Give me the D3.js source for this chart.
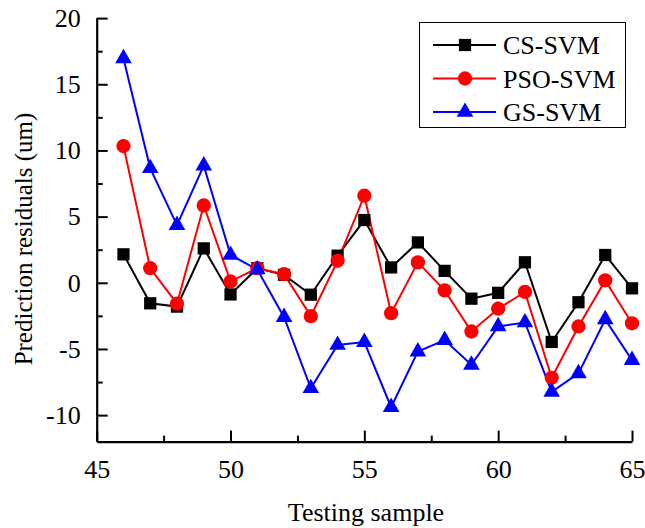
<!DOCTYPE html>
<html>
<head>
<meta charset="utf-8">
<script src="https://cdn.jsdelivr.net/npm/d3@7/dist/d3.min.js"></script>
<style>
  body { margin: 0; background: #fff; }
  svg text { font-family: "Liberation Serif", "Times New Roman", serif !important; fill: #000; }
</style>
</head>
<body>
<div id="chart"></div>
<script>
const samples = [46, 47, 48, 49, 50, 51, 52, 53, 54, 55, 56, 57, 58, 59, 60, 61, 62, 63, 64, 65];
const csSvm = [2.15, -1.55, -1.8, 2.6, -0.88, 1.1, 0.6, -0.9, 2.05, 4.74, 1.16, 3.05, 0.9, -1.2, -0.76, 1.55, -4.47, -1.47, 2.1, -0.42];
const psoSvm = [10.33, 1.1, -1.58, 5.84, 0.1, 1.1, 0.65, -2.52, 1.66, 6.58, -2.3, 1.54, -0.57, -3.68, -1.96, -0.69, -7.18, -3.3, 0.18, -3.06];
const gsSvm = [16.95, 8.65, 4.36, 8.85, 2.1, 1.0, -2.6, -7.97, -4.7, -4.48, -9.4, -5.2, -4.33, -6.2, -3.3, -3.0, -8.24, -6.85, -2.77, -5.84];
const seriesNames = ["CS-SVM", "PSO-SVM", "GS-SVM"];
const xTicks = [45, 50, 55, 60, 65];
const yTicks = [-10, -5, 0, 5, 10, 15, 20];

const W = 645, H = 528;
const serif = "'Liberation Serif', 'Times New Roman', serif";
const svg = d3.select("#chart").append("svg")
  .attr("width", W)
  .attr("height", H);

const x = d3.scaleLinear().domain([45, 65]).range([96.7, 632]);
const y = d3.scaleLinear().domain([-12, 20]).range([441.6, 18.1]);

const series = [
  { name: seriesNames[0], values: csSvm, color: "#000000", symbol: d3.symbolSquare, size: 150 },
  { name: seriesNames[1], values: psoSvm, color: "#ff0000", symbol: d3.symbolCircle, size: 160 },
  { name: seriesNames[2], values: gsSvm, color: "#0000ff", symbol: d3.symbolTriangle, size: 120 }
];

// plain hyphen for negatives, like the original
const fmt = d => String(d);

// minor ticks
const xMinor = d3.range(47.5, 65, 5);
const yMinor = d3.range(-7.5, 20, 5);

svg.append("g")
  .attr("transform", `translate(0,${y(-12)})`)
  .call(d3.axisBottom(x).tickValues(xMinor).tickSize(-6).tickFormat(""))
  .call(g => g.select(".domain").remove())
  .selectAll("line").attr("stroke-width", 2);

svg.append("g")
  .attr("transform", `translate(${x(45)},0)`)
  .call(d3.axisLeft(y).tickValues(yMinor).tickSize(-6).tickFormat(""))
  .call(g => g.select(".domain").remove())
  .selectAll("line").attr("stroke-width", 2);

const xAxis = svg.append("g")
  .attr("transform", `translate(0,${y(-12)})`)
  .call(d3.axisBottom(x).tickValues(xTicks).tickSizeInner(-11).tickSizeOuter(0).tickPadding(18).tickFormat(fmt));
xAxis.attr("font-family", serif);
xAxis.select(".domain").attr("stroke-width", 2.2);
xAxis.selectAll("line").attr("stroke-width", 2);
xAxis.selectAll("text").style("font-size", "26px");

const yAxis = svg.append("g")
  .attr("transform", `translate(${x(45)},0)`)
  .call(d3.axisLeft(y).tickValues(yTicks).tickSizeInner(-11).tickSizeOuter(0).tickPadding(16).tickFormat(fmt));
yAxis.attr("font-family", serif);
yAxis.select(".domain").attr("stroke-width", 2.2);
yAxis.selectAll("line").attr("stroke-width", 2);
yAxis.selectAll("text").style("font-size", "26px");

// axis titles
svg.append("text")
  .attr("x", 366)
  .attr("y", 521)
  .attr("text-anchor", "middle")
  .style("font-size", "26px")
  .text("Testing sample");

svg.append("text")
  .attr("transform", `translate(32,${239}) rotate(-90)`)
  .attr("text-anchor", "middle")
  .style("font-size", "25px")
  .text("Prediction residuals (um)");

// lines and markers
const line = d3.line()
  .x((d, i) => x(samples[i]))
  .y(d => y(d));

series.forEach(s => {
  svg.append("path")
    .datum(s.values)
    .attr("fill", "none")
    .attr("stroke", s.color)
    .attr("stroke-width", 2)
    .attr("d", line);
});

series.forEach(s => {
  svg.append("g")
    .selectAll("path")
    .data(s.values)
    .join("path")
    .attr("transform", (d, i) => `translate(${x(samples[i])},${y(d)})`)
    .attr("d", d3.symbol().type(s.symbol).size(s.size))
    .attr("fill", s.color);
});

// legend
const legend = svg.append("g");
legend.append("rect")
  .attr("x", 419.5)
  .attr("y", 22.5)
  .attr("width", 206)
  .attr("height", 105)
  .attr("fill", "#fff")
  .attr("stroke", "#000")
  .attr("stroke-width", 1);

series.forEach((s, i) => {
  const ly = 45 + i * 33.5;
  legend.append("line")
    .attr("x1", 433).attr("x2", 496)
    .attr("y1", ly).attr("y2", ly)
    .attr("stroke", s.color)
    .attr("stroke-width", 2);
  legend.append("path")
    .attr("transform", `translate(465,${ly})`)
    .attr("d", d3.symbol().type(s.symbol).size(s.size))
    .attr("fill", s.color);
  legend.append("text")
    .attr("x", 503)
    .attr("y", ly + 9)
    .style("font-size", "26px")
    .text(s.name);
});
</script>
</body>
</html>
